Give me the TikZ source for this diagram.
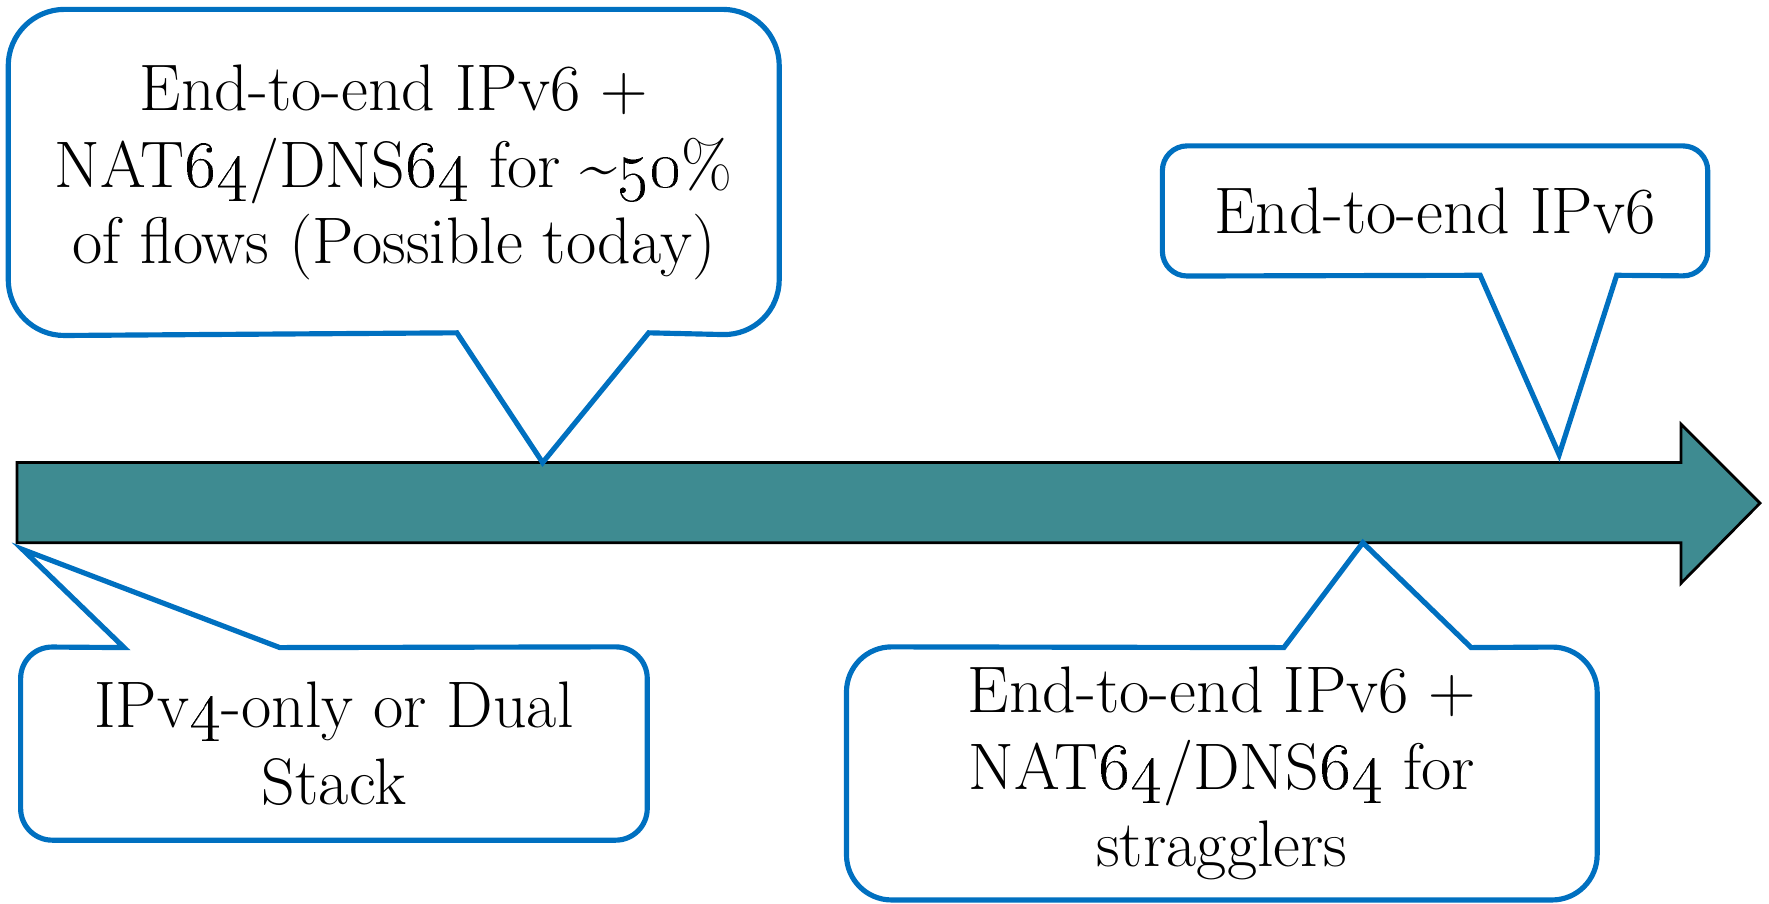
\documentclass[tikz,border=0pt]{standalone}
\usetikzlibrary{positioning}

\definecolor{callblue}{RGB}{0,112,192}
\definecolor{bandteal}{RGB}{62,139,145}

\begin{document}
\begin{tikzpicture}[x=0.1mm, y=-0.1mm]
\tikzset{
  bubble/.style={inner sep=0pt, align=center, font=\fontsize{16.6}{19.3}\selectfont},
  outline/.style={draw=callblue, line width=1.3pt, line join=miter},
  band/.style={draw=black, fill=bandteal, line width=0.7pt}
}
\useasboundingbox (0,0) rectangle (1568,801);

% Timeline
\draw[band] (15,410) -- (1490,410) -- (1490,376) -- (1560,446) -- (1490,517) -- (1490,481) -- (15,481) -- cycle;

% Bubbles
\node[bubble, minimum width=68.2mm, minimum height=28.8mm] (nat) at (349,153)
  {End-to-end IPv6 +\\NAT\oldstylenums{64}/DNS\oldstylenums{64} for \textasciitilde\oldstylenums{50}\%\\of flows (Possible today)};
\node[bubble, minimum width=48.2mm, minimum height=11.4mm] (v6) at (1272,187) {End-to-end IPv6};
\node[bubble, minimum width=55.4mm, minimum height=17mm] (v4) at (296,659) {IPv\oldstylenums{4}-only or Dual\\Stack};
\node[bubble, minimum width=66.4mm, minimum height=22.3mm] (strag) at (1083,685.5)
  {End-to-end IPv6 +\\NAT\oldstylenums{64}/DNS\oldstylenums{64} for\\stragglers};

% Pointer ends
\coordinate (natL) at (405,295);  \coordinate (natR) at (575,295);  \coordinate (natTip) at (481,410);
\coordinate (v6L) at (1312,244);  \coordinate (v6R) at (1433,244);  \coordinate (v6Tip) at (1382,403);
\coordinate (v4L) at (110,574);   \coordinate (v4R) at (248,574);   \coordinate (v4Tip) at (20,487);
\coordinate (stL) at (1138,574);  \coordinate (stR) at (1304,574);  \coordinate (stTip) at (1208,481);

% Outlines
\draw[outline] (natTip) -- (natR) [rounded corners=5mm] -- (nat.south east) -- (nat.north east)
  -- (nat.north west) -- (nat.south west) [sharp corners] -- (natL) -- cycle;
\draw[outline] (v6Tip) -- (v6R) [rounded corners=2.2mm] -- (v6.south east) -- (v6.north east)
  -- (v6.north west) -- (v6.south west) [sharp corners] -- (v6L) -- cycle;
\draw[outline] (v4Tip) -- (v4L) [rounded corners=2.8mm] -- (v4.north west) -- (v4.south west)
  -- (v4.south east) -- (v4.north east) [sharp corners] -- (v4R) -- cycle;
\draw[outline] (stTip) -- (stL) [rounded corners=4mm] -- (strag.north west) -- (strag.south west)
  -- (strag.south east) -- (strag.north east) [sharp corners] -- (stR) -- cycle;
\end{tikzpicture}
\end{document}
